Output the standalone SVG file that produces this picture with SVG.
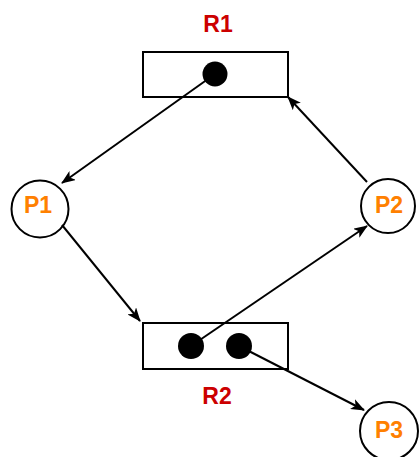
<svg xmlns="http://www.w3.org/2000/svg" width="419" height="457" viewBox="0 0 419 457">
<style>
.box{fill:#fff;stroke:#000;stroke-width:2}
.proc{fill:#fff;stroke:#000;stroke-width:2}
.dot{fill:#000}
.rl{font-family:"Liberation Sans",Arial,sans-serif;font-weight:bold;font-size:23px;fill:#CC0000;text-anchor:middle}
.pl{font-family:"Liberation Sans",Arial,sans-serif;font-weight:bold;font-size:23px;fill:#FF8000;text-anchor:middle}
.edge{stroke:#000;stroke-width:2;fill:none;marker-end:url(#arr)}
</style>
<defs>
<marker id="arr" viewBox="0 0 14 11" refX="13" refY="5.5" markerWidth="14" markerHeight="11" markerUnits="userSpaceOnUse" orient="auto">
<path d="M0,0 L14,5.5 L0,11 L3.5,5.5 z" fill="#000"/>
</marker>
</defs>
<g id="R1">
<text class="rl" x="218" y="32">R1</text>
<rect class="box" x="143" y="52" width="145" height="45"/>
<circle class="dot" cx="215" cy="74" r="12.5"/>
</g>
<g id="R2">
<rect class="box" x="143" y="323" width="145" height="46"/>
<circle class="dot" cx="191" cy="346" r="13"/>
<circle class="dot" cx="239" cy="346" r="13"/>
<text class="rl" x="217" y="404">R2</text>
</g>
<g id="P1">
<circle class="proc" cx="40" cy="209" r="28.5"/>
<text class="pl" x="38" y="213">P1</text>
</g>
<g id="P2">
<circle class="proc" cx="388" cy="206" r="27"/>
<text class="pl" x="389" y="213">P2</text>
</g>
<g id="P3">
<circle class="proc" cx="389" cy="431" r="29"/>
<text class="pl" x="389" y="438">P3</text>
</g>
<g id="connectors">
<line class="edge" x1="215" y1="74" x2="62" y2="183"/>
<line class="edge" x1="62" y1="225" x2="140" y2="321"/>
<line class="edge" x1="191" y1="346" x2="367" y2="226"/>
<line class="edge" x1="367" y1="182" x2="288" y2="97"/>
<line class="edge" x1="239" y1="346" x2="364" y2="410"/>
</g>
</svg>
